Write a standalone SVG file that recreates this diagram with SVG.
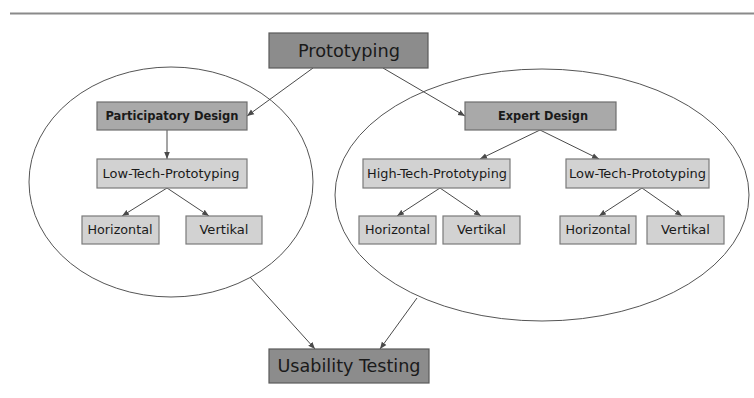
<svg xmlns="http://www.w3.org/2000/svg" width="754" height="398" viewBox="0 0 754 398">
<style>
text{font-family:"DejaVu Sans Condensed","DejaVu Sans",sans-serif;fill:#1a1a1a;text-anchor:middle}
.dark{fill:#8c8c8c;stroke:#5a5a5a;stroke-width:1.2}
.mid{fill:#a9a9a9;stroke:#6e6e6e;stroke-width:1.2}
.light{fill:#d2d2d2;stroke:#7a7a7a;stroke-width:1.2}
.big{font-size:17px}
.med{font-size:11.5px;font-weight:bold}
.sm{font-size:11.5px}
.c{stroke:#4a4a4a;stroke-width:1;fill:none;marker-end:url(#ah)}
.ell{fill:none;stroke:#555;stroke-width:1}
</style>
<defs>
<marker id="ah" viewBox="0 0 10 10" refX="10" refY="5" markerWidth="7" markerHeight="7" markerUnits="userSpaceOnUse" orient="auto">
<path d="M0,1 L10,5 L0,9 z" fill="#4a4a4a"/>
</marker>
</defs>
<rect width="754" height="398" fill="#fff"/>
<line x1="10" y1="13.5" x2="754" y2="13.5" stroke="#8a8a8a" stroke-width="2"/>
<g id="groups">
<ellipse id="left-group" class="ell" cx="171" cy="182" rx="142" ry="115"/>
<ellipse id="right-group" class="ell" cx="542" cy="195" rx="207" ry="126"/>
</g>
<g id="connectors">
<line class="c" x1="313" y1="68" x2="247" y2="116"/>
<line class="c" x1="383" y1="68" x2="465" y2="116"/>
<line class="c" x1="167" y1="130" x2="167" y2="159"/>
<line class="c" x1="167" y1="188" x2="122" y2="216"/>
<line class="c" x1="167" y1="188" x2="209" y2="216"/>
<line class="c" x1="540" y1="130" x2="480" y2="159"/>
<line class="c" x1="540" y1="130" x2="599" y2="159"/>
<line class="c" x1="440" y1="188" x2="397" y2="216"/>
<line class="c" x1="440" y1="188" x2="481" y2="216"/>
<line class="c" x1="642" y1="188" x2="599" y2="216"/>
<line class="c" x1="642" y1="188" x2="682" y2="216"/>
<line class="c" x1="250" y1="277" x2="315" y2="349"/>
<line class="c" x1="417" y1="298" x2="380" y2="349"/>
</g>
<g id="prototyping"><rect class="dark" x="269" y="33" width="159" height="35"/><text class="big" x="349" y="57" textLength="102" lengthAdjust="spacingAndGlyphs">Prototyping</text></g>
<g id="participatory-design"><rect class="mid" x="97" y="102" width="150" height="28"/><text class="med" x="172" y="120" textLength="133" lengthAdjust="spacingAndGlyphs">Participatory Design</text></g>
<g id="low-tech-left"><rect class="light" x="97" y="159" width="150" height="29"/><text class="sm" x="171" y="177.5" textLength="137" lengthAdjust="spacingAndGlyphs">Low-Tech-Prototyping</text></g>
<g id="horizontal-1"><rect class="light" x="82" y="216" width="77" height="28"/><text class="sm" x="120" y="234" textLength="65" lengthAdjust="spacingAndGlyphs">Horizontal</text></g>
<g id="vertikal-1"><rect class="light" x="186" y="216" width="76" height="28"/><text class="sm" x="224" y="234" textLength="49" lengthAdjust="spacingAndGlyphs">Vertikal</text></g>
<g id="expert-design"><rect class="mid" x="465" y="102" width="151" height="28"/><text class="med" x="543" y="120" textLength="90" lengthAdjust="spacingAndGlyphs" style="font-weight:600">Expert Design</text></g>
<g id="high-tech"><rect class="light" x="363" y="159" width="147" height="29"/><text class="sm" x="437" y="177.5" textLength="140" lengthAdjust="spacingAndGlyphs">High-Tech-Prototyping</text></g>
<g id="low-tech-right"><rect class="light" x="566" y="159" width="143" height="29"/><text class="sm" x="637.5" y="177.5" textLength="137" lengthAdjust="spacingAndGlyphs">Low-Tech-Prototyping</text></g>
<g id="horizontal-2"><rect class="light" x="359" y="216" width="77" height="28"/><text class="sm" x="397.5" y="234" textLength="65" lengthAdjust="spacingAndGlyphs">Horizontal</text></g>
<g id="vertikal-2"><rect class="light" x="443" y="216" width="77" height="28"/><text class="sm" x="481.5" y="234" textLength="49" lengthAdjust="spacingAndGlyphs">Vertikal</text></g>
<g id="horizontal-3"><rect class="light" x="560" y="216" width="76" height="28"/><text class="sm" x="598" y="234" textLength="65" lengthAdjust="spacingAndGlyphs">Horizontal</text></g>
<g id="vertikal-3"><rect class="light" x="647" y="216" width="77" height="28"/><text class="sm" x="685.5" y="234" textLength="49" lengthAdjust="spacingAndGlyphs">Vertikal</text></g>
<g id="usability-testing"><rect class="dark" x="269" y="349" width="160" height="34"/><text class="big" x="349" y="372" textLength="143" lengthAdjust="spacingAndGlyphs">Usability Testing</text></g>
</svg>
